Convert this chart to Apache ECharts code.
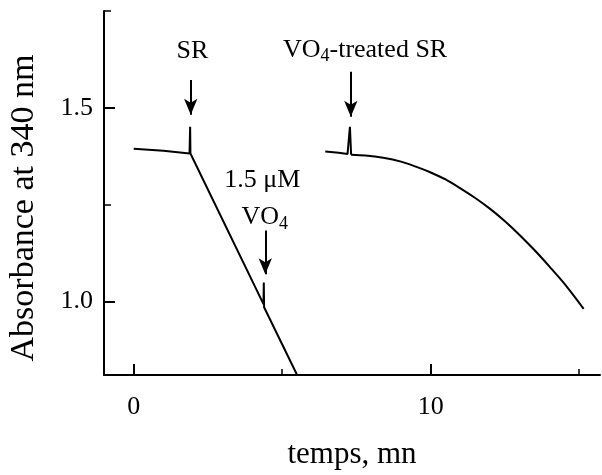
<!DOCTYPE html>
<html>
<head>
<meta charset="utf-8">
<script src="https://cdn.jsdelivr.net/npm/echarts@6/dist/echarts.min.js"></script>
<style>html,body{margin:0;padding:0;background:#fff}#c{width:602px;height:475px}</style>
</head>
<body>
<div id="c"></div>
<script>
// Trace 1: SR (control)
const srTime = [0, 1.0, 1.88, 1.90, 1.91, 4.37, 4.38, 4.39, 5.49];
const srAbs  = [1.394, 1.389, 1.382, 1.451, 1.382, 0.993, 1.049, 0.985, 0.812];
// Trace 2: VO4-treated SR, baseline + addition spike
const vtTime = [6.45, 6.9, 7.2, 7.28, 7.32];
const vtAbs  = [1.387, 1.384, 1.381, 1.451, 1.379];
// Trace 2: decay curve
const curveTime = [7.32, 7.8, 8.4, 9.0, 9.5, 10.0, 10.5, 11.0, 11.5, 12.0, 12.5, 13.0, 13.5, 14.0, 14.5, 15.15];
const curveAbs  = [1.379, 1.377, 1.371, 1.361, 1.348, 1.333, 1.315, 1.292, 1.267, 1.239, 1.207, 1.171, 1.132, 1.090, 1.046, 0.981];
// Axis ticks
const xMajorTicks = [0, 10];
const xMinorTicks = [5, 15];
const yMajorTicks = [1.0, 1.5];
const yMinorTicks = [1.25, 1.75];
// Annotations: [time, absTop, absBottom]
const arrows = [[1.92, 1.572, 1.482], [7.31, 1.593, 1.477], [4.43, 1.183, 1.070]];
const labels = [
  {t: 1.98, a: 1.645, text: 'SR'},
  {t: 7.79, a: 1.650, text: 'VO{s|4}-treated SR'},
  {t: 4.33, a: 1.312, text: '1.5 μM'},
  {t: 4.41, a: 1.218, text: 'VO{s|4}'}
];

const FONT = 'Liberation Serif';
const pairs = (xs, ys) => xs.map((x, i) => [x, ys[i]]);
const lineStyle = {color: '#000', width: 2};

const chart = echarts.init(document.getElementById('c'), null, {renderer: 'canvas'});
chart.setOption({
  animation: false,
  backgroundColor: '#fff',
  grid: {left: 104, right: 2, top: 11, bottom: 100, containLabel: false, outerBoundsMode: 'none'},
  xAxis: [{
    type: 'value', min: -1, max: 15.7,
    axisLine: {show: true, onZero: false, lineStyle: {color: '#000', width: 2}},
    axisTick: {show: true, inside: true, length: 11, lineStyle: {color: '#000', width: 2}, customValues: xMajorTicks},
    axisLabel: {show: true, customValues: xMajorTicks, margin: 19, fontFamily: FONT, fontSize: 26, color: '#000'},
    splitLine: {show: false},
    name: 'temps, mn', nameLocation: 'middle', nameGap: 64,
    nameTextStyle: {fontFamily: FONT, fontSize: 31, color: '#000'}
  }, {
    type: 'value', min: -1, max: 15.7, position: 'bottom', offset: 0,
    axisLine: {show: false, onZero: false},
    axisTick: {show: true, inside: true, length: 6, lineStyle: {color: '#000', width: 1.5}, customValues: xMinorTicks},
    axisLabel: {show: false},
    splitLine: {show: false}
  }],
  yAxis: [{
    type: 'value', min: 0.81, max: 1.75, position: 'left',
    axisLine: {show: true, onZero: false, lineStyle: {color: '#000', width: 2}},
    axisTick: {show: true, inside: true, length: 11, lineStyle: {color: '#000', width: 2}, customValues: yMajorTicks},
    axisLabel: {show: true, customValues: yMajorTicks, margin: 11, fontFamily: FONT, fontSize: 26, color: '#000',
      formatter: v => v.toFixed(1)},
    splitLine: {show: false},
    name: 'Absorbance at 340 nm', nameLocation: 'middle', nameGap: 63,
    nameTextStyle: {fontFamily: FONT, fontSize: 34, color: '#000', padding: [0, 30, 0, 0]}
  }, {
    type: 'value', min: 0.81, max: 1.75, position: 'left', offset: 0,
    axisLine: {show: false, onZero: false},
    axisTick: {show: true, inside: true, length: 7, lineStyle: {color: '#000', width: 1.5}, customValues: yMinorTicks},
    axisLabel: {show: false},
    splitLine: {show: false}
  }],
  series: [{
    type: 'line', data: pairs(srTime, srAbs), showSymbol: false, lineStyle: lineStyle, clip: true,
    markLine: {
      silent: true, symbol: ['none', 'arrow'], symbolSize: [10, 16],
      lineStyle: {color: '#000', width: 2, type: 'solid'}, label: {show: false},
      data: arrows.map(a => [{coord: [a[0], a[1]]}, {coord: [a[0], a[2]]}])
    },
    markPoint: {
      silent: true, symbol: 'circle', symbolSize: 0,
      label: {show: true, position: 'inside', fontFamily: FONT, fontSize: 26, color: '#000',
        rich: {s: {fontFamily: FONT, fontSize: 18, color: '#000', padding: [14, 0, 0, 0]}}},
      data: labels.map(l => ({coord: [l.t, l.a], value: 0, label: {formatter: l.text}}))
    }
  }, {
    type: 'line', data: pairs(vtTime, vtAbs), showSymbol: false, lineStyle: lineStyle
  }, {
    type: 'line', data: pairs(curveTime, curveAbs), showSymbol: false, smooth: 0.3, lineStyle: lineStyle
  }]
});
</script>
</body>
</html>
